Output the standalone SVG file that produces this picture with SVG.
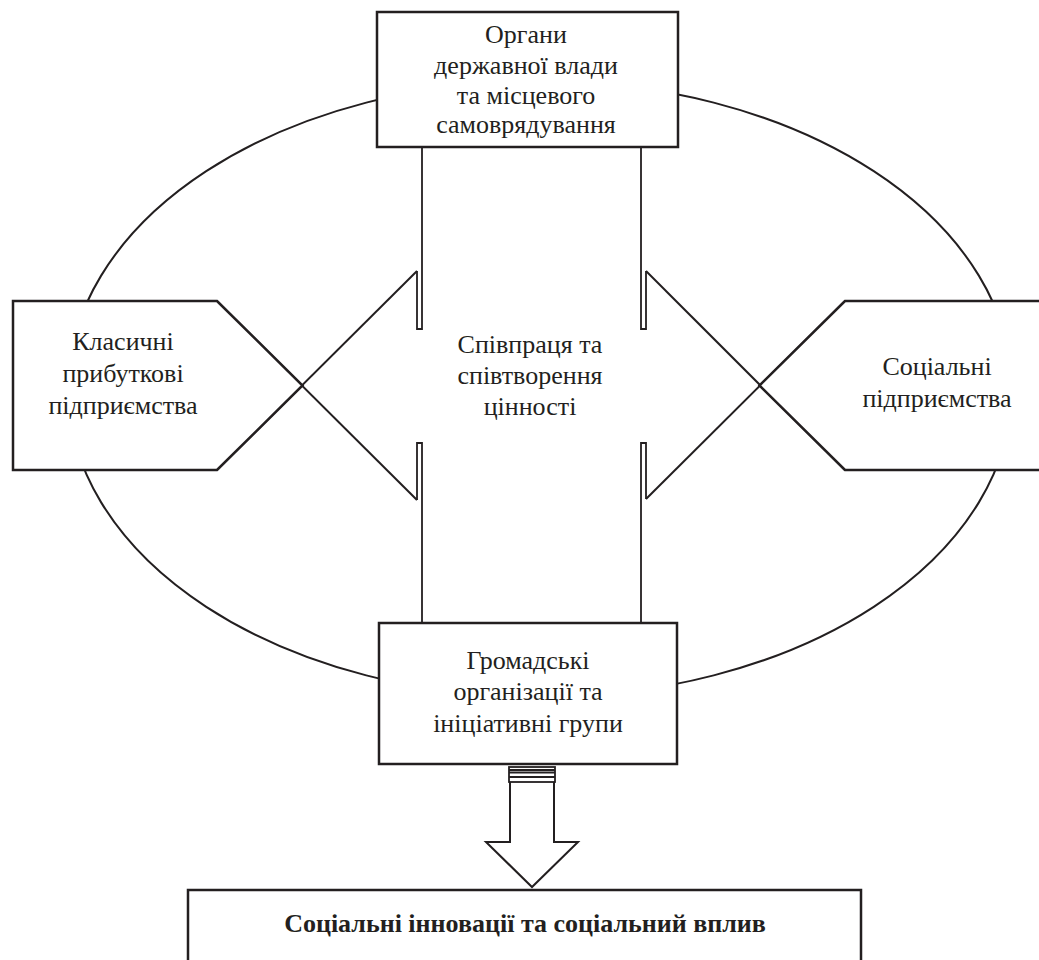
<svg xmlns="http://www.w3.org/2000/svg" width="1039" height="960" viewBox="0 0 1039 960">
<style>
.ln{fill:none;stroke:#231f20;stroke-width:2}
.thin{fill:none;stroke:#231f20;stroke-width:1.8}
.box{fill:#fff;stroke:#231f20;stroke-width:2.5}
.t{font-family:"Liberation Serif","Times New Roman","DejaVu Serif",serif;font-size:26px;fill:#231f20;text-anchor:middle}
.b{font-weight:bold}
</style>
<rect width="1039" height="960" fill="#fff"/>
<ellipse cx="540" cy="389" rx="472" ry="308" class="ln"/>
<g id="connectors">
<line x1="217" y1="301" x2="417" y2="500" class="ln"/>
<line x1="217" y1="470" x2="417" y2="271" class="ln"/>
<line x1="845" y1="301" x2="646" y2="499" class="ln"/>
<line x1="845" y1="470" x2="646" y2="271" class="ln"/>
<path d="M422,147 V329 H417 V271" class="thin"/>
<path d="M422,623 V443 H417 V500" class="thin"/>
<path d="M641,147 V329 H646 V271" class="thin"/>
<path d="M641,623 V443 H646 V499" class="thin"/>
</g>
<g id="n-left">
<path d="M13,301 H217 L302.5,385.5 L217,470 H13 Z" class="box"/>
<text class="t" font-family="Liberation Serif, serif" x="123" y="350">Класичні</text>
<text class="t" font-family="Liberation Serif, serif" x="123" y="382">прибуткові</text>
<text class="t" font-family="Liberation Serif, serif" x="123" y="414">підприємства</text>
</g>
<g id="n-right">
<path d="M1045,301 H845 L759.5,385.5 L845,470 H1045 Z" class="box"/>
<text class="t" font-family="Liberation Serif, serif" x="937" y="375">Соціальні</text>
<text class="t" font-family="Liberation Serif, serif" x="937" y="407">підприємства</text>
</g>
<g id="n-top">
<rect x="377" y="12" width="301" height="135" class="box"/>
<text class="t" font-family="Liberation Serif, serif" x="526" y="43">Органи</text>
<text class="t" font-family="Liberation Serif, serif" x="526" y="74">державної влади</text>
<text class="t" font-family="Liberation Serif, serif" x="526" y="104">та місцевого</text>
<text class="t" font-family="Liberation Serif, serif" x="526" y="133">самоврядування</text>
</g>
<g id="n-center">
<text class="t" font-family="Liberation Serif, serif" x="530" y="353">Співпраця та</text>
<text class="t" font-family="Liberation Serif, serif" x="530" y="384">співтворення</text>
<text class="t" font-family="Liberation Serif, serif" x="530" y="415">цінності</text>
</g>
<g id="n-bottom">
<rect x="379" y="623" width="298" height="141" class="box"/>
<text class="t" font-family="Liberation Serif, serif" x="528" y="669">Громадські</text>
<text class="t" font-family="Liberation Serif, serif" x="528" y="700">організації та</text>
<text class="t" font-family="Liberation Serif, serif" x="528" y="732">ініціативні групи</text>
</g>
<g id="arrow">
<rect x="509" y="767" width="46" height="15" class="thin" fill="#fff"/>
<line x1="509" y1="770" x2="555" y2="770" class="thin"/>
<line x1="509" y1="772.5" x2="555" y2="772.5" class="thin"/>
<line x1="509" y1="777" x2="555" y2="777" class="thin"/>
<path d="M510,782 V842 H486 L532,887 L578,842 H554 V782" class="ln" fill="#fff"/>
</g>
<g id="n-result">
<rect x="188" y="890" width="673" height="100" class="box"/>
<text class="t b" font-family="Liberation Serif, serif" x="525" y="932">Соціальні інновації та соціальний вплив</text>
</g>
</svg>
